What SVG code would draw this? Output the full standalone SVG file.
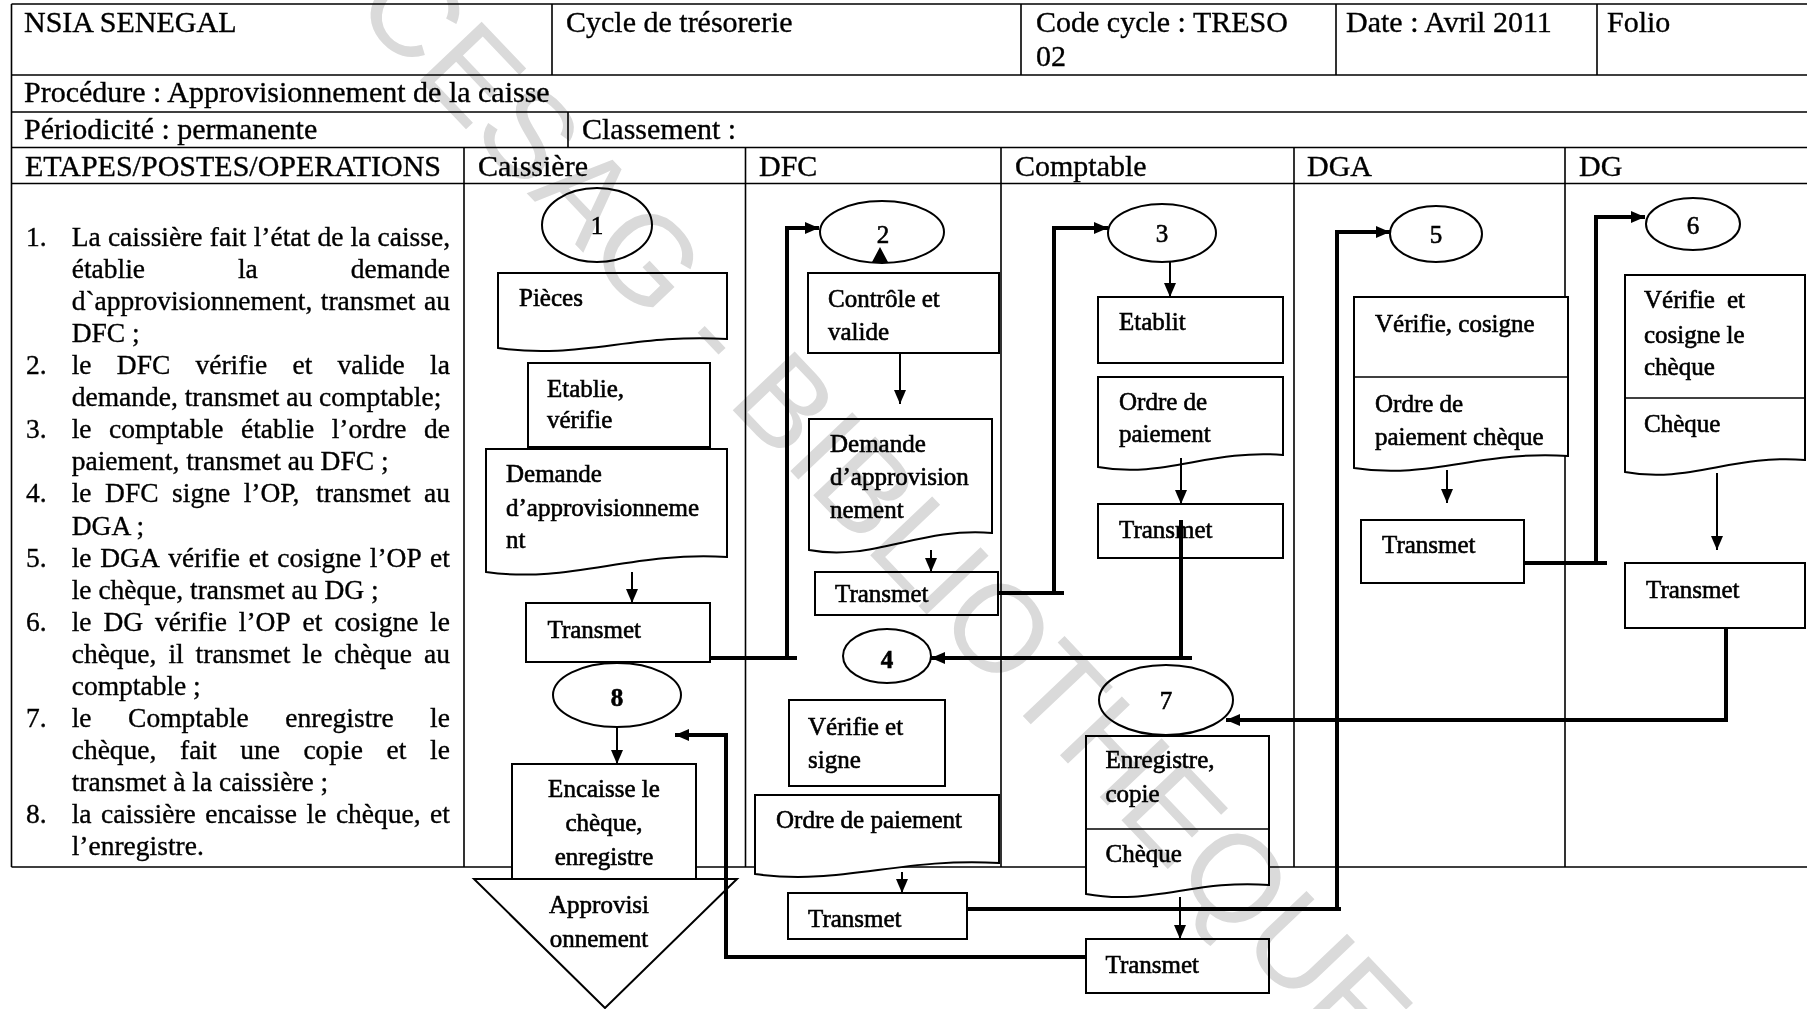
<svg xmlns="http://www.w3.org/2000/svg" width="1807" height="1009" viewBox="0 0 1807 1009">
  <style>
    .tl { fill: none; stroke: #000; stroke-width: 1.6; }
    .box { fill: #fff; stroke: #000; stroke-width: 2; }
    .t { font-family: "Liberation Serif", "Times New Roman", serif; fill: #000; stroke: #000; stroke-width: 0.35; }
    .hd { font-size: 30px; }
    .ls { font-size: 27.5px; }
    .bx { font-size: 25px; stroke-width: 0.6; }
    .num { font-size: 25px; text-anchor: middle; stroke-width: 0.6; }
    .mid { text-anchor: middle; }
    .cn { fill: none; stroke: #000; stroke-width: 4; }
    .ar { fill: none; stroke: #000; stroke-width: 2; }
    .wm { font-family: "Liberation Sans", Arial, sans-serif; font-size: 124px; fill: #dadada; mix-blend-mode: multiply; }
  </style>
  <defs>
    <marker id="ah" viewBox="0 0 14 12" refX="14" refY="6" markerWidth="14" markerHeight="12" markerUnits="userSpaceOnUse" orient="auto">
      <path d="M0,0 L14,6 L0,12 z" fill="#000"/>
    </marker>
  </defs>

  <rect x="0" y="0" width="1807" height="1009" fill="#fff"/>

  <!-- form frame and swimlane grid -->
  <g id="grid" class="tl">
    <path d="M11.5,4 H1807 M11.5,75 H1807 M11.5,112 H1807 M11.5,147.5 H1807 M11.5,183.5 H1807 M11.5,867 H1807"/>
    <path d="M11.5,4 V867"/>
    <path d="M552,4 V75 M1021,4 V75 M1336,4 V75 M1597,4 V75"/>
    <path d="M568,112 V147.5"/>
    <path d="M464,147.5 V867 M745.5,147.5 V867 M1001,147.5 V867 M1294,147.5 V867 M1565,147.5 V867"/>
  </g>

  <!-- header cells -->
  <g id="header" class="t hd">
    <text x="24" y="32">NSIA SENEGAL</text>
    <text x="566" y="32">Cycle de trésorerie</text>
    <text x="1036" y="32">Code cycle : TRESO</text>
    <text x="1036" y="66">02</text>
    <text x="1346" y="32">Date : Avril 2011</text>
    <text x="1607" y="32">Folio</text>
    <text x="24" y="102">Procédure : Approvisionnement de la caisse</text>
    <text x="24" y="139">Périodicité : permanente</text>
    <text x="582" y="139">Classement :</text>
    <text x="25" y="176">ETAPES/POSTES/OPERATIONS</text>
    <text x="478" y="176">Caissière</text>
    <text x="759" y="176">DFC</text>
    <text x="1015" y="176">Comptable</text>
    <text x="1307" y="176">DGA</text>
    <text x="1579" y="176">DG</text>
  </g>

  <!-- numbered steps, justified column -->
  <g id="steps" class="t ls">
    <text y="246"><tspan x="26">1.</tspan> <tspan x="71.7">La</tspan> <tspan x="107.9">caissière</tspan> <tspan x="209.8">fait</tspan> <tspan x="253.7">l’état</tspan> <tspan x="317.4">de</tspan> <tspan x="350.6">la</tspan> <tspan x="377.5">caisse,</tspan></text>
    <text y="278"><tspan x="71.7">établie</tspan> <tspan x="237.9">la</tspan> <tspan x="350.7">demande</tspan></text>
    <text y="310"><tspan x="71.7">d`approvisionnement,</tspan> <tspan x="320.8">transmet</tspan> <tspan x="424">au</tspan></text>
    <text y="342" x="71.7">DFC ;</text>
    <text y="374"><tspan x="26">2.</tspan> <tspan x="71.7">le</tspan> <tspan x="116.8">DFC</tspan> <tspan x="195.5">vérifie</tspan> <tspan x="292.5">et</tspan> <tspan x="337.6">valide</tspan> <tspan x="430.1">la</tspan></text>
    <text y="406" x="71.7">demande, transmet au comptable;</text>
    <text y="438"><tspan x="26">3.</tspan> <tspan x="71.7">le</tspan> <tspan x="109">comptable</tspan> <tspan x="241">établie</tspan> <tspan x="331.7">l’ordre</tspan> <tspan x="424">de</tspan></text>
    <text y="470" x="71.7">paiement, transmet au DFC ;</text>
    <text y="502"><tspan x="26">4.</tspan> <tspan x="71.7">le</tspan> <tspan x="105.1">DFC</tspan> <tspan x="172.1">signe</tspan> <tspan x="243.7">l’OP,</tspan> <tspan x="316">transmet</tspan> <tspan x="424">au</tspan></text>
    <text y="534.5" x="71.7">DGA ;</text>
    <text y="566.5"><tspan x="26">5.</tspan> <tspan x="71.7">le</tspan> <tspan x="100.2">DGA</tspan> <tspan x="168.3">vérifie</tspan> <tspan x="248.7">et</tspan> <tspan x="277.2">cosigne</tspan> <tspan x="369.8">l’OP</tspan> <tspan x="430.1">et</tspan></text>
    <text y="598.5" x="71.7">le chèque, transmet au DG ;</text>
    <text y="630.6"><tspan x="26">6.</tspan> <tspan x="71.7">le</tspan> <tspan x="103.5">DG</tspan> <tspan x="155.1">vérifie</tspan> <tspan x="238.8">l’OP</tspan> <tspan x="302.6">et</tspan> <tspan x="334.4">cosigne</tspan> <tspan x="430.1">le</tspan></text>
    <text y="662.6"><tspan x="71.7">chèque,</tspan> <tspan x="168.4">il</tspan> <tspan x="195.6">transmet</tspan> <tspan x="302.3">le</tspan> <tspan x="334.1">chèque</tspan> <tspan x="424">au</tspan></text>
    <text y="694.7" x="71.7">comptable ;</text>
    <text y="726.7"><tspan x="26">7.</tspan> <tspan x="71.7">le</tspan> <tspan x="128.1">Comptable</tspan> <tspan x="285.3">enregistre</tspan> <tspan x="430.1">le</tspan></text>
    <text y="758.8"><tspan x="71.7">chèque,</tspan> <tspan x="180">fait</tspan> <tspan x="240.2">une</tspan> <tspan x="303.4">copie</tspan> <tspan x="386.5">et</tspan> <tspan x="430.1">le</tspan></text>
    <text y="790.8" x="71.7">transmet à la caissière ;</text>
    <text y="822.9"><tspan x="26">8.</tspan> <tspan x="71.7">la</tspan> <tspan x="101.1">caissière</tspan> <tspan x="205.3">encaisse</tspan> <tspan x="306.5">le</tspan> <tspan x="335.9">chèque,</tspan> <tspan x="430.1">et</tspan></text>
    <text y="855" x="71.7">l’enregistre.</text>
  </g>

  <!-- Caissière lane -->
  <g id="step1">
    <ellipse class="box" cx="597" cy="225" rx="55" ry="37"/>
    <text class="t num" x="597" y="234">1</text>
  </g>
  <g id="pieces">
    <path class="box" d="M498,273 H727 V339 C635,333 578,360 498,348 Z"/>
    <text class="t bx" x="519" y="306">Pièces</text>
  </g>
  <g id="etablie-verifie">
    <rect class="box" x="528" y="363" width="182" height="84"/>
    <text class="t bx" x="547" y="397">Etablie,</text>
    <text class="t bx" x="547" y="428">vérifie</text>
  </g>
  <g id="demande-caissiere">
    <path class="box" d="M486,449 H727 V557 C631,551 570,584 486,572 Z"/>
    <text class="t bx" x="506" y="482">Demande</text>
    <text class="t bx" x="506" y="516">d’approvisionneme</text>
    <text class="t bx" x="506" y="548">nt</text>
  </g>
  <g id="transmet-caissiere">
    <rect class="box" x="526" y="603" width="184" height="59"/>
    <text class="t bx" x="547.5" y="638">Transmet</text>
  </g>
  <g id="step8">
    <ellipse class="box" cx="617" cy="695" rx="64" ry="32"/>
    <text class="t num" x="617" y="706" font-weight="bold">8</text>
  </g>
  <g id="encaisse">
    <rect class="box" x="512" y="764" width="184" height="115"/>
    <text class="t bx mid" x="604" y="797">Encaisse le</text>
    <text class="t bx mid" x="604" y="831">chèque,</text>
    <text class="t bx mid" x="604" y="865">enregistre</text>
  </g>
  <g id="approvisionnement">
    <path class="box" d="M474,879 H737 L605,1008 Z"/>
    <text class="t bx mid" x="599" y="913">Approvisi</text>
    <text class="t bx mid" x="599" y="947">onnement</text>
  </g>

  <!-- DFC lane -->
  <g id="step2">
    <ellipse class="box" cx="882" cy="232" rx="62" ry="31"/>
    <text class="t num" x="883" y="243">2</text>
    <path d="M880,247 L872,262 L888,262 Z" fill="#000"/>
  </g>
  <g id="controle-valide">
    <rect class="box" x="808" y="273" width="191" height="80"/>
    <text class="t bx" x="828" y="307">Contrôle et</text>
    <text class="t bx" x="828" y="340">valide</text>
  </g>
  <g id="demande-dfc">
    <path class="box" d="M809,419 H992 V533 C919,527 873,562 809,550 Z"/>
    <text class="t bx" x="830" y="452">Demande</text>
    <text class="t bx" x="830" y="485">d’approvision</text>
    <text class="t bx" x="830" y="518">nement</text>
  </g>
  <g id="transmet-dfc-1">
    <rect class="box" x="815" y="572" width="183" height="43"/>
    <text class="t bx" x="835" y="602">Transmet</text>
  </g>
  <g id="step4">
    <ellipse class="box" cx="887" cy="656" rx="44" ry="27"/>
    <text class="t num" x="887" y="668" font-weight="bold">4</text>
  </g>
  <g id="verifie-signe">
    <rect class="box" x="789" y="700" width="156" height="86"/>
    <text class="t bx" x="808" y="735">Vérifie et</text>
    <text class="t bx" x="808" y="768">signe</text>
  </g>
  <g id="ordre-dfc">
    <path class="box" d="M755,795 H999 V863 C901,857 840,886 755,874 Z"/>
    <text class="t bx" x="776" y="828">Ordre de paiement</text>
  </g>
  <g id="transmet-dfc-2">
    <rect class="box" x="788" y="893" width="179" height="46"/>
    <text class="t bx" x="808" y="927">Transmet</text>
  </g>

  <!-- Comptable lane -->
  <g id="step3">
    <ellipse class="box" cx="1162" cy="233" rx="54" ry="29"/>
    <text class="t num" x="1162" y="242">3</text>
  </g>
  <g id="etablit">
    <rect class="box" x="1098" y="297" width="185" height="66"/>
    <text class="t bx" x="1119" y="330">Etablit</text>
  </g>
  <g id="ordre-comptable">
    <path class="box" d="M1098,377 H1283 V455 C1209,449 1163,479 1098,467 Z"/>
    <text class="t bx" x="1119" y="410">Ordre de</text>
    <text class="t bx" x="1119" y="442">paiement</text>
  </g>
  <g id="transmet-comptable-1">
    <rect class="box" x="1098" y="504" width="185" height="54"/>
    <text class="t bx" x="1119" y="538">Transmet</text>
  </g>
  <g id="step7">
    <ellipse class="box" cx="1166" cy="700" rx="67" ry="35"/>
    <text class="t num" x="1166" y="709">7</text>
  </g>
  <g id="enregistre-cheque">
    <path class="box" d="M1086,736 H1269 V885 C1196,879 1150,906 1086,894 Z"/>
    <path class="tl" d="M1086,829 H1269" stroke-width="2"/>
    <text class="t bx" x="1105.5" y="768">Enregistre,</text>
    <text class="t bx" x="1105.5" y="802">copie</text>
    <text class="t bx" x="1105.5" y="862">Chèque</text>
  </g>
  <g id="transmet-comptable-2">
    <rect class="box" x="1086" y="939" width="183" height="54"/>
    <text class="t bx" x="1105.5" y="973">Transmet</text>
  </g>

  <!-- DGA lane -->
  <g id="step5">
    <ellipse class="box" cx="1436" cy="234" rx="46" ry="28"/>
    <text class="t num" x="1436" y="243">5</text>
  </g>
  <g id="verifie-cosigne">
    <path class="box" d="M1354,297 H1568 V456 C1482,450 1429,480 1354,468 Z"/>
    <path class="tl" d="M1354,377 H1568" stroke-width="2"/>
    <text class="t bx" x="1375" y="332">Vérifie, cosigne</text>
    <text class="t bx" x="1375" y="412">Ordre de</text>
    <text class="t bx" x="1375" y="445">paiement chèque</text>
  </g>
  <g id="transmet-dga">
    <rect class="box" x="1361" y="520" width="163" height="63"/>
    <text class="t bx" x="1382" y="553">Transmet</text>
  </g>

  <!-- DG lane -->
  <g id="step6">
    <ellipse class="box" cx="1693" cy="224" rx="47" ry="26"/>
    <text class="t num" x="1693" y="234">6</text>
  </g>
  <g id="verifie-cosigne-cheque">
    <path class="box" d="M1625,275 H1805 V460 C1733,454 1688,484 1625,472 Z"/>
    <path class="tl" d="M1625,398 H1805" stroke-width="2"/>
    <text class="t bx" y="308"><tspan x="1644">Vérifie</tspan> <tspan x="1727">et</tspan></text>
    <text class="t bx" x="1644" y="343">cosigne le</text>
    <text class="t bx" x="1644" y="375">chèque</text>
    <text class="t bx" x="1644" y="432">Chèque</text>
  </g>
  <g id="transmet-dg">
    <rect class="box" x="1625" y="563" width="180" height="65"/>
    <text class="t bx" x="1646" y="598">Transmet</text>
  </g>

  <!-- flow connectors -->
  <g id="connectors">
    <path class="cn" d="M710,658 H797 M787,658 V228 H819" marker-end="url(#ah)"/>
    <path class="ar" d="M900,353 V404" marker-end="url(#ah)"/>
    <path class="ar" d="M931,550 V572" marker-end="url(#ah)"/>
    <path class="cn" d="M998,593 H1064 M1054,593 V228 H1108" marker-end="url(#ah)"/>
    <path class="ar" d="M1170,262 V297" marker-end="url(#ah)"/>
    <path class="ar" d="M1181,458 V504" marker-end="url(#ah)"/>
    <path class="cn" d="M1181,520 V658 M1192,658 H931" marker-end="url(#ah)" stroke-width="3.5"/>
    <path class="ar" d="M902,872 V893" marker-end="url(#ah)"/>
    <path class="cn" d="M967,909 H1341 M1337,909 V232 H1390" marker-end="url(#ah)"/>
    <path class="ar" d="M1447,470 V503" marker-end="url(#ah)"/>
    <path class="cn" d="M1524,563 H1607 M1596,563 V217 H1645" marker-end="url(#ah)"/>
    <path class="ar" d="M1717,473 V550" marker-end="url(#ah)"/>
    <path class="cn" d="M1726,628 V720 H1226" marker-end="url(#ah)" stroke-width="3.5"/>
    <path class="ar" d="M1180,897 V939" marker-end="url(#ah)"/>
    <path class="cn" d="M1086,957 H726 V735 H675" marker-end="url(#ah)" stroke-width="3.5"/>
    <path class="ar" d="M617,727 V764" marker-end="url(#ah)"/>
    <path class="ar" d="M632,572 V603" marker-end="url(#ah)"/>
  </g>

  <!-- library stamp across the sheet -->
  <g id="watermark">
    <text class="wm" transform="translate(351,8) rotate(46.5)">CESAG - BIBLIOTHEQUE</text>
  </g>
</svg>
